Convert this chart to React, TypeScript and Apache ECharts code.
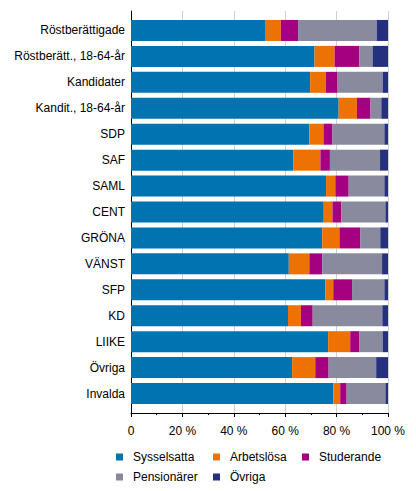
import { useEffect, useRef } from 'react';
import * as echarts from 'echarts';
import type { EChartsOption } from 'echarts';

const categories = [
  'Röstberättigade',
  'Röstberätt., 18-64-år',
  'Kandidater',
  'Kandit., 18-64-år',
  'SDP',
  'SAF',
  'SAML',
  'CENT',
  'GRÖNA',
  'VÄNST',
  'SFP',
  'KD',
  'LIIKE',
  'Övriga',
  'Invalda'
];

const sysselsatta = [52.4, 71.4, 69.7, 80.8, 69.4, 63.1, 75.9, 75.0, 74.4, 61.4, 75.6, 61.1, 76.7, 62.7, 78.7];
const arbetslosa = [5.9, 7.8, 6.1, 7.1, 5.5, 10.6, 3.6, 3.4, 6.7, 8.0, 3.1, 5.0, 8.6, 9.0, 2.7];
const studerande = [6.7, 9.6, 4.6, 5.3, 3.5, 3.7, 5.2, 3.4, 8.2, 5.0, 7.3, 4.6, 3.6, 5.2, 2.5];
const pensionarer = [30.6, 5.2, 17.5, 4.2, 20.2, 19.5, 13.9, 17.2, 7.7, 23.3, 12.6, 27.1, 9.0, 18.5, 15.1];
const ovriga = [4.4, 6.0, 2.1, 2.6, 1.4, 3.1, 1.4, 1.0, 3.0, 2.3, 1.4, 2.2, 2.1, 4.6, 1.0];

const seriesDefs = [
  { name: 'Sysselsatta', data: sysselsatta, color: '#0073b0' },
  { name: 'Arbetslösa', data: arbetslosa, color: '#ee7203' },
  { name: 'Studerande', data: studerande, color: '#a5007f' },
  { name: 'Pensionärer', data: pensionarer, color: '#8a8a9e' },
  { name: 'Övriga', data: ovriga, color: '#25307f' }
];

const FONT = '"Liberation Sans", Arial, sans-serif';

function legend(left: number, names: string[]) {
  return {
    left,
    top: 451,
    orient: 'vertical' as const,
    icon: 'rect',
    itemWidth: 7,
    itemHeight: 7,
    itemGap: 8,
    padding: 0,
    selectedMode: false,
    data: names,
    textStyle: { fontFamily: FONT, fontSize: 12, color: '#000', padding: [0, 0, 0, 5] }
  };
}

function buildOption(): EChartsOption {
  return {
    animation: false,
    textStyle: { fontFamily: FONT },
    legend: [
      legend(116, ['Sysselsatta', 'Pensionärer']),
      legend(213, ['Arbetslösa', 'Övriga']),
      legend(302, ['Studerande'])
    ],
    grid: [
      { left: 131, right: 28, top: 11, bottom: 78 },
      { left: 131, right: 28, top: 17.5, bottom: 84.5 }
    ],
    xAxis: [
      {
        type: 'value',
        gridIndex: 0,
        min: 0,
        max: 100,
        interval: 20,
        axisLine: { show: true, onZero: false, lineStyle: { color: '#000', width: 1 } },
        axisTick: { show: true, length: 4, lineStyle: { color: '#000' } },
        minorTick: { show: true, splitNumber: 2, length: 2, lineStyle: { color: '#000' } },
        splitLine: { show: true, lineStyle: { color: '#d0d0d0', width: 1 } },
        axisLabel: {
          margin: 12,
          fontSize: 12,
          color: '#000',
          fontFamily: FONT,
          formatter: (v: number) => (v === 0 ? '0' : `${v} %`)
        }
      },
      { type: 'value', gridIndex: 1, min: 0, max: 100, show: false }
    ],
    yAxis: [
      {
        type: 'value',
        gridIndex: 0,
        min: 0,
        max: 1,
        axisLine: { show: true, onZero: false, lineStyle: { color: '#000', width: 1 } },
        axisTick: { show: false },
        axisLabel: { show: false },
        splitLine: { show: false }
      },
      {
        type: 'category',
        gridIndex: 1,
        inverse: true,
        data: categories,
        axisLine: { show: false },
        axisTick: { show: false },
        axisLabel: { margin: 6, fontSize: 12, color: '#000', fontFamily: FONT }
      }
    ],
    series: seriesDefs.map((s) => ({
      name: s.name,
      type: 'bar' as const,
      stack: 'total',
      xAxisIndex: 1,
      yAxisIndex: 1,
      barCategoryGap: '19%',
      data: s.data,
      itemStyle: { color: s.color }
    }))
  };
}

export default function App() {
  const containerRef = useRef<HTMLDivElement | null>(null);

  useEffect(() => {
    document.body.style.margin = '0';
    if (!containerRef.current) return undefined;
    const chart = echarts.init(containerRef.current, null, { renderer: 'svg' });
    chart.setOption(buildOption(), true);
    return () => chart.dispose();
  }, []);

  return <div ref={containerRef} style={{ width: 416, height: 491 }} />;
}
